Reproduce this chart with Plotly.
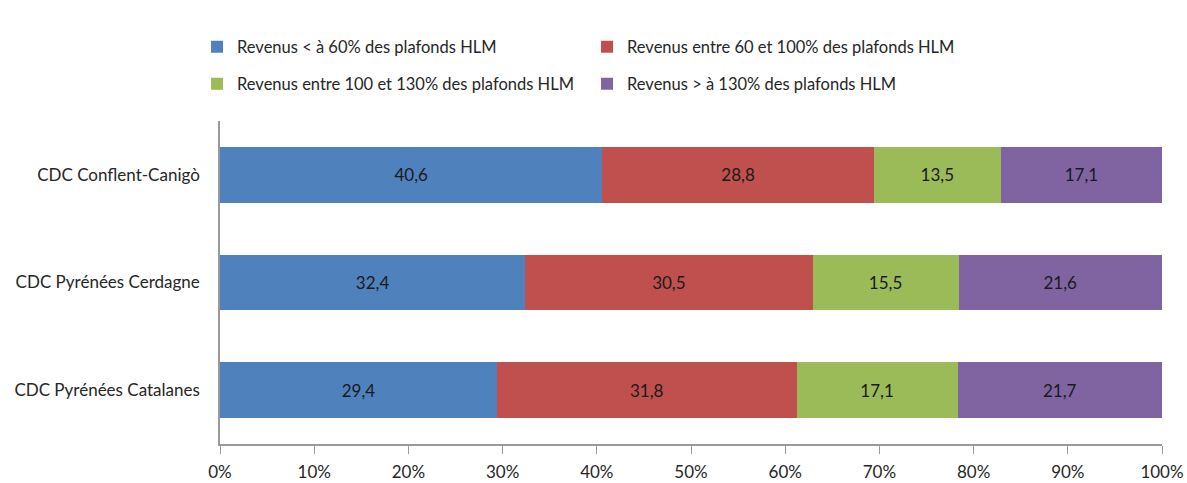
import plotly.graph_objects as go

# Territoires (de haut en bas)
territoires = ["CDC Conflent-Canigò", "CDC Pyrénées Cerdagne", "CDC Pyrénées Catalanes"]

# Répartition des ménages selon les revenus (en %)
series_noms = [
    "Revenus < à 60% des plafonds HLM",
    "Revenus entre 60 et 100% des plafonds HLM",
    "Revenus entre 100 et 130% des plafonds HLM",
    "Revenus > à 130% des plafonds HLM",
]
moins_60 = [40.6, 32.4, 29.4]
entre_60_100 = [28.8, 30.5, 31.8]
entre_100_130 = [13.5, 15.5, 17.1]
plus_130 = [17.1, 21.6, 21.7]

ticks_x = [0, 10, 20, 30, 40, 50, 60, 70, 80, 90, 100]
ticks_x_labels = ["0%", "10%", "20%", "30%", "40%", "50%", "60%", "70%", "80%", "90%", "100%"]

couleurs = ["#4F81BD", "#C0504D", "#9BBB59", "#8064A2"]
valeurs = [moins_60, entre_60_100, entre_100_130, plus_130]
legendes = ["legend", "legend", "legend2", "legend2"]

FONT = "Lato, 'Open Sans', sans-serif"
TAILLE = 17

fig = go.Figure()
for nom, vals, coul, leg in zip(series_noms, valeurs, couleurs, legendes):
    fig.add_trace(go.Bar(
        y=territoires,
        x=vals,
        name=nom,
        orientation="h",
        marker=dict(color=coul, line=dict(width=0)),
        texttemplate="%{x:.1f}",
        textposition="inside",
        insidetextanchor="middle",
        textfont=dict(color="#1a1a1a", size=TAILLE, family=FONT),
        legend=leg,
    ))

legend_common = dict(
    orientation="h",
    xanchor="left",
    yanchor="middle",
    xref="container",
    yref="container",
    font=dict(size=16.5, family=FONT, color="#262626"),
    entrywidth=345,
    itemwidth=30,
    bgcolor="rgba(0,0,0,0)",
    traceorder="normal",
)

fig.update_layout(
    width=1187,
    height=483,
    barmode="stack",
    bargap=0.48,
    separators=", ",
    plot_bgcolor="white",
    paper_bgcolor="white",
    font=dict(family=FONT, size=TAILLE, color="#262626"),
    margin=dict(l=220, r=25, t=121, b=39),
    legend=dict(x=0.166, y=1 - 47 / 483, **legend_common),
    legend2=dict(x=0.166, y=1 - 84 / 483, **legend_common),
    xaxis=dict(
        range=[0, 100],
        tickvals=ticks_x,
        ticktext=ticks_x_labels,
        showgrid=False,
        zeroline=False,
        showline=True,
        linecolor="#9a9a9a",
        linewidth=1.5,
        ticks="outside",
        ticklen=8,
        tickcolor="#9a9a9a",
        tickfont=dict(size=TAILLE, family=FONT, color="#262626"),
        ticklabelstandoff=4,
        automargin=False,
    ),
    yaxis=dict(
        categoryorder="array",
        categoryarray=territoires,
        autorange="reversed",
        showgrid=False,
        zeroline=False,
        showline=True,
        linecolor="#9a9a9a",
        linewidth=1.5,
        ticks="",
        tickfont=dict(size=TAILLE, family=FONT, color="#262626"),
        ticklabelstandoff=15,
        automargin=False,
    ),
)

fig.write_html("out.html")
